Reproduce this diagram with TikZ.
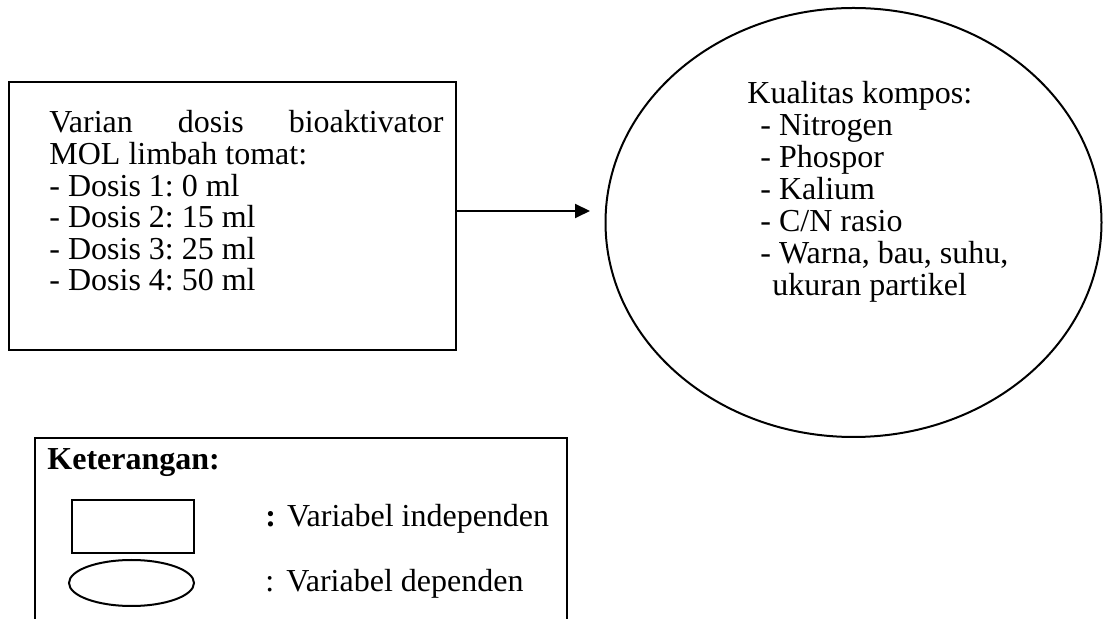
\documentclass[tikz,border=0pt]{standalone}
\usepackage{fontspec}
\setmainfont{Liberation Serif}
\usetikzlibrary{shapes.geometric,arrows.meta,fit}
\frenchspacing
\begin{document}
\begin{tikzpicture}[x=0.5pt,y=-0.5pt,
  txt/.style={anchor=base west, inner sep=0pt, font=\fontsize{16pt}{16pt}\selectfont},
  ln/.style={line width=1pt},
  arr/.style={line width=1pt, -{Triangle[length=7.5pt,width=7pt]}}]
\useasboundingbox (0,0) rectangle (1103,619);
% independent variable box
\coordinate (bTL) at (9,82);
\coordinate (bBR) at (456,350);
\node[draw, ln, fit=(bTL)(bBR), inner sep=0pt] (indep) {};
\node[txt] (v1) at (49,133) {\makebox[197pt][l]{Varian\hfill dosis\hfill bioaktivator}};
\node[txt] (v2) at (49,164.6) {MOL limbah tomat:};
\node[txt] (v3) at (49,196.2) {- Dosis 1: 0 ml};
\node[txt] (v4) at (49,227.8) {- Dosis 2: 15 ml};
\node[txt] (v5) at (49,259.4) {- Dosis 3: 25 ml};
\node[txt] (v6) at (49,291) {- Dosis 4: 50 ml};
% dependent variable ellipse
\node[draw, ln, ellipse, minimum width=248pt, minimum height=214.5pt, inner sep=0pt] (dep) at (853.5,222.5) {};
\node[txt] (d1) at (747,104) {Kualitas kompos:};
\node[txt] (d2) at (760,136) {- Nitrogen};
\node[txt] (d3) at (760,168) {- Phospor};
\node[txt] (d4) at (760,200) {- Kalium};
\node[txt] (d5) at (760,232) {- C/N rasio};
\node[txt] (d6) at (760,264) {- Warna, bau, suhu,};
\node[txt] (d7) at (772,296) {ukuran partikel};
% arrow
\coordinate (tip) at (590,211);
\draw[arr] (indep.east |- tip) -- (tip);
% legend
\coordinate (k1) at (35,619);
\coordinate (k2) at (35,438);
\coordinate (k3) at (567,438);
\coordinate (k4) at (567,619);
\draw[ln] (k1) -- (k2) -- (k3) -- (k4);
\node[txt, font=\fontsize{16pt}{16pt}\selectfont\bfseries] (ket) at (47,470) {Keterangan:};
\node[draw, ln, minimum width=61pt, minimum height=26.5pt, inner sep=0pt, anchor=north west] (lrect) at (71,499) {};
\node[txt] (lt1) at (265,527) {\textbf{:}\hspace{5.5pt}Variabel independen};
\node[draw, ln, ellipse, minimum width=62.5pt, minimum height=23pt, inner sep=0pt] (lell) at (131.5,583) {};
\node[txt] (lt2) at (265,592) {:\hspace{6pt}Variabel dependen};
\end{tikzpicture}
\end{document}
